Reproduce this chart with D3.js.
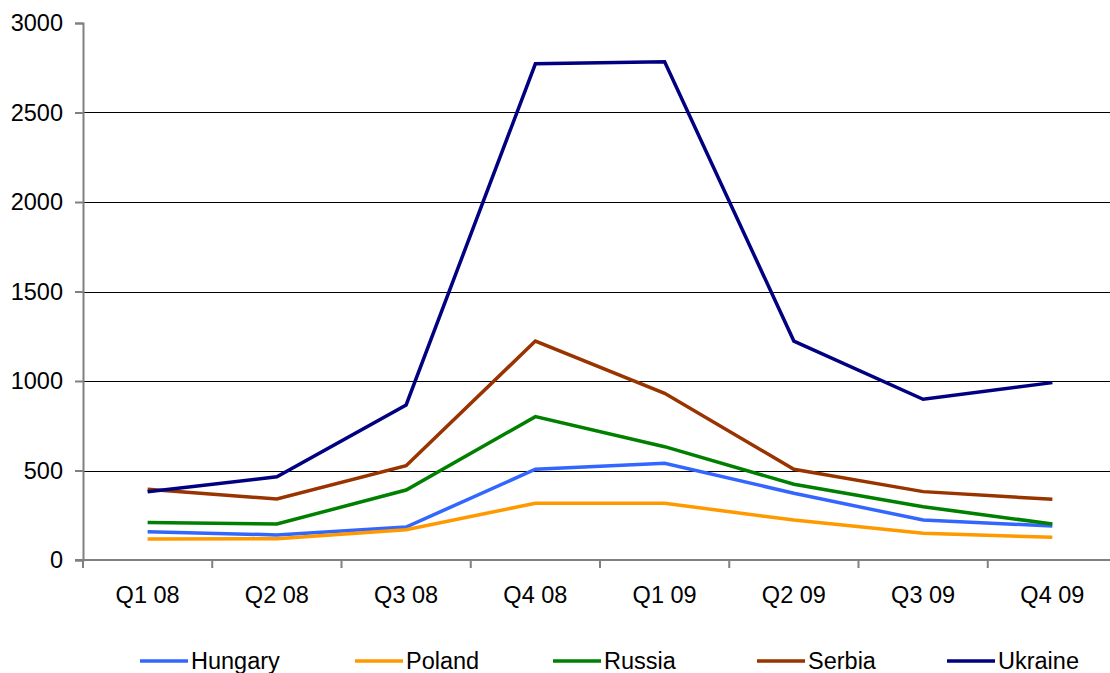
<!DOCTYPE html>
<html>
<head>
<meta charset="utf-8">
<script src="https://cdn.jsdelivr.net/npm/d3@7"></script>
<style>
  html, body { margin: 0; padding: 0; background: #fff; }
  svg { display: block; font-family: "Liberation Sans", Arial, sans-serif; }
</style>
</head>
<body>
<svg id="chart" width="1110" height="673"></svg>
<script>
// Quarterly values per country
const quarters = ["Q1 08", "Q2 08", "Q3 08", "Q4 08", "Q1 09", "Q2 09", "Q3 09", "Q4 09"];
const hungary = [158, 140, 184, 507, 540, 373, 223, 190];
const poland  = [117, 119, 169, 317, 317, 223, 149, 127];
const russia  = [210, 201, 391, 801, 633, 423, 298, 201];
const serbia  = [395, 341, 527, 1223, 931, 507, 382, 339];
const ukraine = [381, 465, 866, 2772, 2784, 1223, 898, 991];
const yTicks  = [0, 500, 1000, 1500, 2000, 2500, 3000];

const series = [
  { name: "Hungary", values: hungary, color: "#3366ff" },
  { name: "Poland",  values: poland,  color: "#ff9900" },
  { name: "Russia",  values: russia,  color: "#008000" },
  { name: "Serbia",  values: serbia,  color: "#993300" },
  { name: "Ukraine", values: ukraine, color: "#000080" }
];

const fontSize = 23.5;
const svg = d3.select("#chart");
const plotLeft = 83, plotRight = 1117, plotTop = 23, plotBottom = 560;

const x = d3.scaleBand().domain(quarters).range([plotLeft, plotRight]).padding(0);
const y = d3.scaleLinear().domain([0, 3000]).range([plotBottom, plotTop]);

// horizontal gridlines
svg.append("g")
  .selectAll("line")
  .data(yTicks.filter(t => t > 0 && t < 3000))
  .join("line")
  .attr("x1", plotLeft).attr("x2", plotRight)
  .attr("y1", d => Math.round(y(d)) + 0.5).attr("y2", d => Math.round(y(d)) + 0.5)
  .attr("stroke", "#000").attr("stroke-width", 1);

// y axis
const yAxis = svg.append("g")
  .attr("transform", `translate(${plotLeft},0)`)
  .call(d3.axisLeft(y).tickValues(yTicks).tickSize(8).tickPadding(12).tickFormat(d3.format("d")));
yAxis.select(".domain").attr("stroke", "#808080").attr("stroke-width", 2);
yAxis.selectAll(".tick line").attr("stroke", "#808080").attr("stroke-width", 2);
yAxis.selectAll("text").attr("font-size", fontSize).attr("fill", "#000")
  .attr("font-family", "Liberation Sans, Arial, sans-serif");

// x axis: ticks at band boundaries, labels at band centers
const xAxisG = svg.append("g");
xAxisG.append("line")
  .attr("x1", plotLeft - 8).attr("x2", plotRight)
  .attr("y1", plotBottom).attr("y2", plotBottom)
  .attr("stroke", "#808080").attr("stroke-width", 2);
xAxisG.selectAll("line.tk")
  .data(quarters.concat(["__end"]))
  .join("line")
  .attr("class", "tk")
  .attr("x1", (d, i) => plotLeft + i * x.bandwidth())
  .attr("x2", (d, i) => plotLeft + i * x.bandwidth())
  .attr("y1", plotBottom).attr("y2", plotBottom + 8)
  .attr("stroke", "#808080").attr("stroke-width", 2);
xAxisG.selectAll("text")
  .data(quarters)
  .join("text")
  .attr("x", d => x(d) + x.bandwidth() / 2)
  .attr("y", 603)
  .attr("text-anchor", "middle")
  .attr("font-size", fontSize)
  .text(d => d);

// series lines
const line = d3.line()
  .x((d, i) => x(quarters[i]) + x.bandwidth() / 2)
  .y(d => y(d));

svg.append("g")
  .selectAll("path")
  .data(series)
  .join("path")
  .attr("d", d => line(d.values))
  .attr("fill", "none")
  .attr("stroke", d => d.color)
  .attr("stroke-width", 3.5)
  .attr("stroke-linejoin", "miter");

// legend
const legendX = [140, 355, 553, 757, 947];
const legend = svg.append("g")
  .selectAll("g")
  .data(series)
  .join("g")
  .attr("transform", (d, i) => `translate(${legendX[i]},661)`);
legend.append("line")
  .attr("x1", 0).attr("x2", 48)
  .attr("y1", 0).attr("y2", 0)
  .attr("stroke", d => d.color)
  .attr("stroke-width", 3.5);
legend.append("text")
  .attr("x", 51).attr("y", 8)
  .attr("font-size", fontSize)
  .text(d => d.name);
</script>
</body>
</html>
